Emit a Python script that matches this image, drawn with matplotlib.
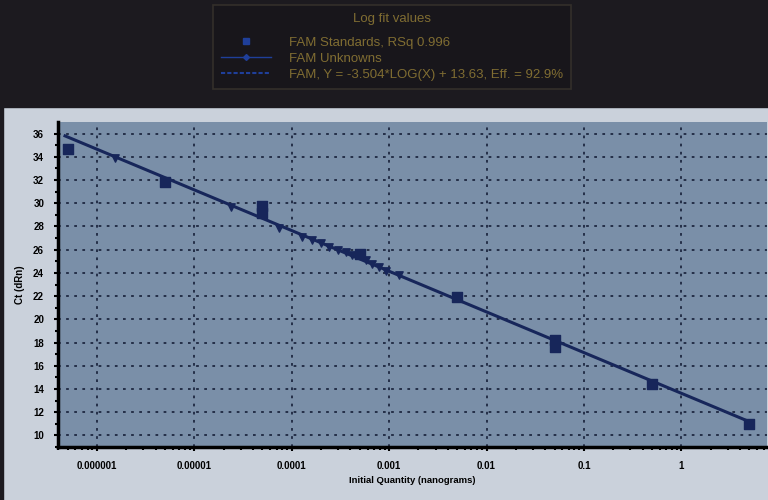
import numpy as np
import matplotlib.pyplot as plt
from matplotlib.lines import Line2D
from matplotlib.patches import Rectangle
from matplotlib.ticker import FixedLocator, NullFormatter

plt.rcParams['font.family'] = ['Liberation Sans', 'DejaVu Sans']

# 标准品 (数量, Ct)
std_qty = [5e-7, 5e-6, 5e-5, 5e-5, 5e-4, 5e-3, 5e-2, 5e-2, 0.5, 5.0]
std_ct = [34.7, 31.8, 29.8, 29.2, 25.6, 21.9, 18.2, 17.6, 14.4, 11.0]

# 未知样品
unk_qty = [1.55e-6, 2.4e-5, 7.4e-5, 1.26e-4, 1.62e-4, 2.0e-4, 2.4e-4,
           3.0e-4, 3.6e-4, 4.2e-4, 5.75e-4, 6.6e-4, 7.9e-4, 9.3e-4, 1.26e-3]
unk_ct = [33.9, 29.7, 27.9, 27.1, 26.8, 26.6, 26.2, 26.0, 25.8, 25.5,
          25.1, 24.8, 24.5, 24.2, 23.8]

# 拟合线
fit_slope = -3.504
fit_intercept = 13.63
fit_x = [4.7e-7, 5.3]

x_ticks = [1e-6, 1e-5, 1e-4, 1e-3, 1e-2, 1e-1, 1]
x_labels = ['0.000001', '0.00001', '0.0001', '0.001', '0.01', '0.1', '1']
y_ticks = list(range(10, 37, 2))

legend_labels = ['FAM Standards, RSq 0.996', 'FAM Unknowns',
                 'FAM, Y = -3.504*LOG(X) + 13.63, Eff. = 92.9%']

navy = '#17265a'
gold = '#806d32'


def main():
    fig = plt.figure(figsize=(7.68, 5.0), dpi=100, facecolor='#cad1db')
    # 上方深色区域
    fig.patches.append(Rectangle((0, 1 - 107 / 500), 1, 107 / 500,
                                 transform=fig.transFigure, color='#1c1a1f', zorder=0))
    fig.patches.append(Rectangle((0, 0), 3 / 768, 1,
                                 transform=fig.transFigure, color='#1c1a1f', zorder=0))

    ax = fig.add_axes([58 / 768, 53 / 500, 709 / 768, 325 / 500])
    ax.set_facecolor('#7a8fa8')

    fx = np.array(fit_x)
    ax.plot(fx, fit_slope * np.log10(fx) + fit_intercept, color=navy, lw=2.2, zorder=3)
    ax.scatter(std_qty, std_ct, marker='s', s=55, color=navy, zorder=4)
    ax.scatter(unk_qty, unk_ct, marker='v', s=28, color=navy, zorder=4)

    ax.set_xscale('log')
    ax.set_xlim(10 ** -6.40, 10 ** 0.88)
    ax.set_ylim(9.05, 37.0)
    ax.xaxis.set_major_locator(FixedLocator(x_ticks))
    ax.set_xticklabels(x_labels)
    ax.xaxis.set_minor_locator(FixedLocator(
        [m * 10.0 ** e for e in range(-7, 1) for m in range(2, 10)]))
    ax.xaxis.set_minor_formatter(NullFormatter())
    ax.set_yticks(y_ticks)
    ax.set_yticks(np.arange(9, 37, 1), minor=True)

    ax.grid(True, which='major', color='#1d2740', linestyle=(0, (1.5, 3)), lw=1.3)
    for s in ['top', 'right']:
        ax.spines[s].set_visible(False)
    for s in ['left', 'bottom']:
        ax.spines[s].set_linewidth(2.5)
        ax.spines[s].set_color('black')
    ax.tick_params(which='major', length=3, width=1.5, labelsize=7, pad=7)
    ax.tick_params(which='minor', length=2, width=1.5)
    for t in ax.get_xticklabels() + ax.get_yticklabels():
        t.set_fontweight('bold')

    ax.set_xlabel('Initial Quantity (nanograms)', fontsize=6.8, fontweight='bold', labelpad=4)
    ax.set_ylabel('Ct (dRn)', fontsize=7, fontweight='bold', labelpad=6)

    # 图例
    handles = [
        Line2D([], [], ls='none', marker='s', ms=5, color='#1f3f9a'),
        Line2D([], [], ls='-', lw=1, marker='D', ms=3, color='#1f3f9a'),
        Line2D([], [], ls=(0, (2, 1)), lw=1.5, color='#1f3f9a'),
    ]
    leg = fig.legend(handles, legend_labels, title='Log fit values\n',
                     loc='center', bbox_to_anchor=(392 / 768, 1 - 47 / 500),
                     fontsize=9.5, title_fontsize=9.5, frameon=True,
                     facecolor='#17151b', edgecolor='#3a352e', fancybox=False,
                     handlelength=3.8, handletextpad=1.3, labelspacing=0.28,
                     borderpad=0.6)
    leg.get_frame().set_linewidth(1.2)
    leg.get_title().set_color(gold)
    leg.get_title().set_linespacing(0.55)
    for t in leg.get_texts():
        t.set_color(gold)

    fig.savefig('out.png', dpi=100, facecolor=fig.get_facecolor())


if __name__ == '__main__':
    main()
